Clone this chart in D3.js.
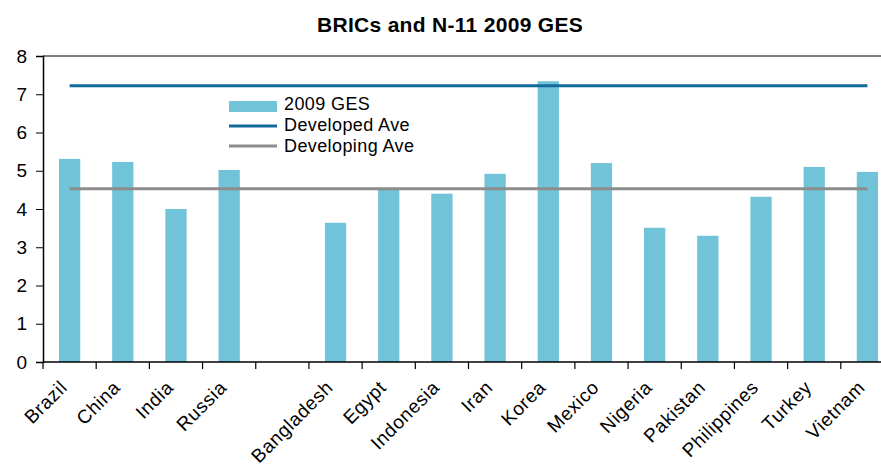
<!DOCTYPE html>
<html>
<head>
<meta charset="utf-8">
<script src="https://cdn.jsdelivr.net/npm/d3@7"></script>
<style>
  body { margin: 0; background: #fff; }
  svg { font-family: "Liberation Sans", Arial, sans-serif; }
</style>
</head>
<body>
<svg id="chart" width="881" height="472"></svg>
<script>
// categories (the empty slot splits BRICs from N-11)
const countries = ["Brazil", "China", "India", "Russia", "", "Bangladesh", "Egypt", "Indonesia",
  "Iran", "Korea", "Mexico", "Nigeria", "Pakistan", "Philippines", "Turkey", "Vietnam"];
const ges2009 = [5.31, 5.23, 4.0, 5.02, null, 3.64, 4.5, 4.4,
  4.92, 7.34, 5.2, 3.51, 3.3, 4.32, 5.1, 4.97];
const developedAve = 7.22;
const developingAve = 4.53;
const yTicks = [0, 1, 2, 3, 4, 5, 6, 7, 8];
const legendText = ["2009 GES", "Developed Ave", "Developing Ave"];

const svg = d3.select("#chart");

// keys have to be unique for the band scale
const keys = countries.map((c, i) => i);

const x = d3.scaleBand().domain(keys).range([43, 894]).padding(0);
const y = d3.scaleLinear().domain([0, 8]).range([362, 56]);

const barColor = "#70c3d8";
const devColor = "#136a9c";
const devingColor = "#8c8c8c";

// title
svg.append("text")
  .attr("x", 450).attr("y", 32)
  .attr("text-anchor", "middle")
  .style("font-size", "21px")
  .style("font-weight", "bold")
  .style("letter-spacing", "0.3px")
  .text("BRICs and N-11 2009 GES");

// top frame line
svg.append("line")
  .attr("x1", 43).attr("x2", 881)
  .attr("y1", y(8)).attr("y2", y(8))
  .attr("stroke", "#000").attr("stroke-width", 1);

// bars
const barW = x.bandwidth() * 0.4;
svg.selectAll(".bar")
  .data(keys.filter(i => ges2009[i] != null))
  .join("rect")
  .attr("class", "bar")
  .attr("x", i => x(i) + (x.bandwidth() - barW) / 2)
  .attr("width", barW)
  .attr("y", i => y(ges2009[i]))
  .attr("height", i => y(0) - y(ges2009[i]))
  .attr("fill", barColor);

// average lines, from first to last category centre
const cx = i => x(i) + x.bandwidth() / 2;
[[developedAve, devColor], [developingAve, devingColor]].forEach(d => {
  svg.append("line")
    .attr("x1", cx(0)).attr("x2", cx(keys.length - 1))
    .attr("y1", y(d[0])).attr("y2", y(d[0]))
    .attr("stroke", d[1]).attr("stroke-width", 3);
});

// y axis
const yAxis = svg.append("g")
  .attr("transform", "translate(43,0)")
  .call(d3.axisLeft(y).tickValues(yTicks).tickSize(7).tickPadding(9));
yAxis.select(".domain").attr("stroke-width", 1.5);
yAxis.selectAll("text").style("font-size", "19px").attr("fill", "#000");

// x axis: ticks sit on band edges
const edges = keys.map(i => x(i));
const xAxis = svg.append("g").attr("transform", "translate(0," + y(0) + ")");
xAxis.append("line")
  .attr("x1", 43).attr("x2", 881)
  .attr("stroke", "#000").attr("stroke-width", 1.5);
xAxis.selectAll(".xtick")
  .data(edges)
  .join("line")
  .attr("class", "xtick")
  .attr("x1", d => d).attr("x2", d => d)
  .attr("y1", 0).attr("y2", 7)
  .attr("stroke", "#000").attr("stroke-width", 1.2);

svg.selectAll(".xlabel")
  .data(keys.filter(i => countries[i] !== ""))
  .join("text")
  .attr("class", "xlabel")
  .attr("transform", i => "translate(" + (cx(i) - 6) + ",384) rotate(-45)")
  .attr("text-anchor", "end")
  .attr("dy", "0.35em")
  .style("font-size", "19px")
  .style("letter-spacing", "0.6px")
  .text(i => countries[i]);

// legend
const legend = svg.append("g").attr("transform", "translate(229,0)");
legend.append("rect")
  .attr("x", 0).attr("y", 101).attr("width", 48).attr("height", 11)
  .attr("fill", barColor);
legend.append("line")
  .attr("x1", 0).attr("x2", 48).attr("y1", 126).attr("y2", 126)
  .attr("stroke", devColor).attr("stroke-width", 3);
legend.append("line")
  .attr("x1", 0).attr("x2", 48).attr("y1", 146).attr("y2", 146)
  .attr("stroke", devingColor).attr("stroke-width", 3);
legend.selectAll(".ltext")
  .data(legendText)
  .join("text")
  .attr("class", "ltext")
  .attr("x", 55)
  .attr("y", (d, i) => 110 + i * 21)
  .style("font-size", "18px")
  .style("letter-spacing", "0.4px")
  .text(d => d);
</script>
</body>
</html>
